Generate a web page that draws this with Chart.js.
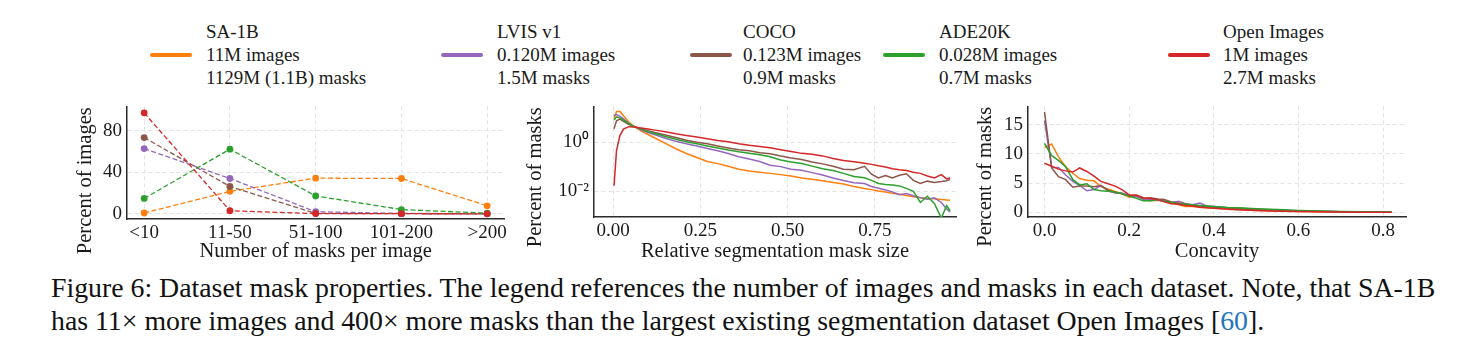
<!DOCTYPE html>
<html><head><meta charset="utf-8">
<script src="https://cdn.jsdelivr.net/npm/chart.js@4.4.1/dist/chart.umd.min.js"></script>
<style>
body{margin:0;background:#fff;width:1484px;height:359px;overflow:hidden;position:relative;font-family:"Liberation Serif","Times New Roman",serif;color:#111}
canvas{position:absolute;top:90px}
.sw{position:absolute;height:4px;border-radius:2px;top:53px;width:42px}
.lt{position:absolute;top:20px;font-size:19px;line-height:23px;white-space:nowrap;color:#1a1a1a}
.cap{position:absolute;left:51px;font-size:27.8px;line-height:33px;white-space:nowrap;color:#111}
</style></head><body>
<div id="legend"></div>
<canvas id="c1" width="470" height="180" style="left:40px"></canvas>
<canvas id="c2" width="465" height="180" style="left:500px"></canvas>
<canvas id="c3" width="450" height="180" style="left:965px"></canvas>
<div class="cap" style="top:271px">Figure 6: Dataset mask properties. The legend references the number of images and masks in each dataset. Note, that SA-1B</div>
<div class="cap" style="top:304px">has 11× more images and 400× more masks than the largest existing segmentation dataset Open Images [<span style="color:#2376bd">60</span>].</div>
<script>
// ---- series / legend ----
const seriesNames  = ['SA-1B', 'LVIS v1', 'COCO', 'ADE20K', 'Open Images'];
const seriesImages = ['11M images', '0.120M images', '0.123M images', '0.028M images', '1M images'];
const seriesMasks  = ['1129M (1.1B) masks', '1.5M masks', '0.9M masks', '0.7M masks', '2.7M masks'];
const seriesColors = ['#ff7f0e', '#9467bd', '#8c564b', '#2ca02c', '#d62728'];

// ---- chart 1: number of masks per image ----
const maskCountBins = ['<10', '11-50', '51-100', '101-200', '>200'];
const maskCountSA1B = [0.8, 21.6, 34.3, 34.0, 7.7];
const maskCountLVIS = [62.8, 34.0, 2.0, 0.4, 0.1];
const maskCountCOCO = [73.4, 26.3, 0.4, 0.1, 0.0];
const maskCountADE  = [14.8, 62.2, 17.2, 4.1, 0.6];
const maskCountOpen = [97.2, 3.0, 0.2, 0.1, 0.0];
const countTicks = [0, 40, 80];

// ---- chart 2: relative mask size (log y) ----
const sizeBins = [0.003,0.01,0.02,0.03,0.045,0.06,0.08,0.10,0.12,0.15,0.18,0.21,0.24,0.27,0.30,0.33,0.36,0.39,0.42,0.45,0.48,0.51,0.54,0.57,0.60,0.63,0.66,0.69,0.72,0.74,0.76,0.78,0.80,0.82,0.84,0.86,0.88,0.90,0.92,0.94,0.955,0.965];
const sizeSA1B = [9.3,18.2,18.2,12.3,6.8,4.57,2.95,2.09,1.51,0.91,0.55,0.35,0.24,0.166,0.135,0.105,0.079,0.068,0.060,0.054,0.048,0.042,0.035,0.031,0.027,0.023,0.020,0.0158,0.0129,0.0117,0.0102,0.0093,0.0083,0.0076,0.0068,0.0060,0.0054,0.0051,0.0050,0.0046,0.0044,0.0043];
const sizeLVIS = [12.6,13.8,11.5,9.1,6.0,4.37,3.24,2.51,2.04,1.48,1.10,0.87,0.71,0.56,0.45,0.35,0.26,0.21,0.166,0.117,0.102,0.079,0.072,0.058,0.046,0.035,0.0275,0.0224,0.0209,0.0158,0.0132,0.0112,0.0095,0.0072,0.0081,0.0066,0.0055,0.0047,0.0054,0.0035,0.0019,0.00145];
const sizeCOCO = [3.63,7.6,8.9,7.2,5.5,4.47,3.63,3.02,2.51,2.0,1.58,1.23,1.02,0.87,0.71,0.59,0.50,0.45,0.38,0.34,0.275,0.23,0.20,0.158,0.132,0.105,0.079,0.076,0.105,0.050,0.035,0.044,0.035,0.045,0.052,0.028,0.021,0.026,0.023,0.025,0.027,0.030];
const sizeADE  = [8.1,11.0,9.8,8.1,6.0,4.47,3.47,2.75,2.29,1.74,1.35,1.05,0.87,0.71,0.59,0.49,0.41,0.355,0.31,0.257,0.19,0.158,0.138,0.107,0.083,0.071,0.054,0.040,0.036,0.028,0.021,0.019,0.018,0.0166,0.0132,0.010,0.0035,0.0063,0.0032,0.0008,0.0026,0.0016];
const sizeOpen = [0.017,0.457,1.95,3.47,4.37,4.27,3.89,3.55,3.16,2.69,2.24,1.91,1.66,1.41,1.20,1.05,0.87,0.76,0.68,0.60,0.50,0.42,0.355,0.33,0.28,0.22,0.18,0.162,0.141,0.126,0.11,0.098,0.083,0.076,0.071,0.060,0.054,0.042,0.035,0.048,0.032,0.035];
const sizeXTicks = [0, 0.25, 0.5, 0.75];
const sizeXLabels = ['0.00', '0.25', '0.50', '0.75'];
const sizeYTicks = [0.01, 1];
const sizeYLabels = ['10\u207B\u00B2', '10\u2070'];

// ---- chart 3: concavity ----
const concBins = [0,0.017,0.033,0.05,0.067,0.083,0.1,0.117,0.133,0.15,0.167,0.183,0.2,0.217,0.233,0.25,0.267,0.283,0.3,0.317,0.333,0.35,0.367,0.383,0.4,0.433,0.467,0.5,0.533,0.567,0.6,0.65,0.7,0.75,0.82];
const concSA1B = [11.1,11.7,9.5,7.8,6.7,5.8,5.5,5.4,4.4,4.0,3.6,3.2,2.6,2.8,2.3,2.0,2.1,1.9,1.6,1.3,1.0,1.0,0.9,0.8,0.75,0.6,0.45,0.35,0.3,0.22,0.17,0.12,0.08,0.05,0.03];
const concLVIS = [15.7,7.7,7.7,6.4,5.3,4.6,3.7,3.9,4.6,3.7,3.3,3.3,2.9,2.7,2.3,2.2,2.1,2.0,1.7,1.9,1.5,1.3,1.6,1.1,1.0,0.8,0.7,0.55,0.45,0.35,0.3,0.2,0.12,0.08,0.05];
const concCOCO = [17.2,7.6,6.1,5.6,4.3,4.5,4.5,4.4,4.6,3.8,3.4,3.2,2.8,2.9,2.4,2.5,2.3,2.2,1.8,1.6,1.5,1.2,1.1,1.0,0.9,0.75,0.6,0.5,0.4,0.3,0.25,0.15,0.1,0.07,0.04];
const concADE  = [11.8,9.7,8.9,7.8,5.6,4.7,4.9,3.9,3.7,3.6,3.5,3.2,2.8,2.4,2.0,2.0,2.2,1.9,1.7,1.5,1.4,1.3,1.2,1.1,1.0,0.85,0.75,0.65,0.55,0.45,0.35,0.25,0.15,0.1,0.06];
const concOpen = [8.4,7.9,7.4,7.1,6.9,7.6,7.0,6.2,5.3,4.9,4.5,3.9,3.0,3.0,2.5,2.4,2.2,1.8,1.5,1.4,1.2,1.1,0.9,0.8,0.7,0.55,0.4,0.35,0.25,0.2,0.15,0.1,0.07,0.05,0.03];
const concXTicks = [0, 0.2, 0.4, 0.6, 0.8];
const concYTicks = [0, 5, 10, 15];

// ---- legend (HTML) ----
const legendSwatchX = [150, 441, 690, 883, 1168];
const legendTextX   = [206, 497, 743, 939, 1223];
const legendEl = document.getElementById('legend');
seriesNames.forEach((n, i) => {
  const s = document.createElement('div');
  s.className = 'sw'; s.style.left = legendSwatchX[i] + 'px'; s.style.background = seriesColors[i];
  legendEl.appendChild(s);
  const t = document.createElement('div');
  t.className = 'lt'; t.style.left = legendTextX[i] + 'px';
  [n, seriesImages[i], seriesMasks[i]].forEach(line => {
    const d = document.createElement('div'); d.textContent = line; t.appendChild(d);
  });
  legendEl.appendChild(t);
});

// ---- shared styling ----
const FONT = "'Liberation Serif','Times New Roman',serif";
Chart.defaults.font.family = FONT;
Chart.defaults.color = '#1a1a1a';
const gridOpts = {color: '#e3e3e3', lineWidth: 1, drawTicks: false};
const borderOpts = {display: true, color: '#2b2b2b', width: 1.5, dash: [4, 3]};
const tickFont = {family: FONT, size: 19};
const titleFont = {family: FONT, size: 20.5};

const yTitlePlugin = {
  id: 'yTitle',
  afterDraw(chart, args, o) {
    const {ctx, chartArea} = chart;
    ctx.save();
    ctx.font = titleFont.size + 'px ' + FONT;
    ctx.fillStyle = '#1a1a1a';
    ctx.textAlign = 'center';
    ctx.textBaseline = 'middle';
    ctx.translate(chartArea.left - o.dx, (chartArea.top + chartArea.bottom) / 2 + o.dy);
    ctx.rotate(-Math.PI / 2);
    ctx.fillText(o.text, 0, 0);
    ctx.restore();
  }
};

function pts(xs, ys) { return xs.map((x, i) => ({x: x, y: ys[i]})); }

function makeChart(id, datasets, xCfg, yCfg, yTitle, layout) {
  return new Chart(document.getElementById(id), {
    type: 'line',
    data: {datasets},
    plugins: [yTitlePlugin],
    options: {
      responsive: false, animation: false, devicePixelRatio: 1,
      layout: {padding: {top: 7, right: layout.padRight, bottom: 0, left: 0}},
      plugins: {legend: {display: false}, tooltip: {enabled: false},
                yTitle: {text: yTitle, dx: layout.tdx, dy: layout.tdy}},
      elements: {line: {tension: 0}},
      scales: {
        x: Object.assign({
          type: 'linear',
          afterFit: s => { s.height = layout.xH; },
          grid: gridOpts, border: borderOpts,
          ticks: Object.assign({font: tickFont, color: '#1a1a1a', padding: 3, maxRotation: 0, autoSkip: false}, xCfg.ticks || {}),
          title: {display: true, text: xCfg.title, font: titleFont, color: '#1a1a1a', padding: {top: 0, bottom: 6}}
        }, xCfg.scale),
        y: Object.assign({
          afterFit: s => { s.width = layout.yW; },
          grid: gridOpts, border: borderOpts,
          ticks: Object.assign({font: tickFont, color: '#1a1a1a', padding: 5, autoSkip: false}, yCfg.ticks || {})
        }, yCfg.scale)
      }
    }
  });
}

// chart 1
const countSeries = [maskCountSA1B, maskCountLVIS, maskCountCOCO, maskCountADE, maskCountOpen];
const countIdx = maskCountBins.map((_, i) => i);
makeChart('c1',
  countSeries.map((vals, i) => ({
    data: pts(countIdx, vals), borderColor: seriesColors[i], backgroundColor: seriesColors[i],
    borderWidth: 1.3, borderDash: [5, 2.5], pointRadius: 3.4, pointBorderWidth: 0, pointHoverRadius: 3.4,
    order: 4 - i
  })),
  {title: 'Number of masks per image',
   scale: {min: -0.2, max: 4.2, afterBuildTicks: s => { s.ticks = countIdx.map(v => ({value: v})); }},
   ticks: {callback: v => maskCountBins[v]}},
  {scale: {type: 'linear', min: -5, max: 103.4, afterBuildTicks: s => { s.ticks = countTicks.map(v => ({value: v})); }}},
  'Percent of images', {padRight: 5, yW: 87, xH: 51, tdx: 41, tdy: 18});

// chart 2
const sizeSeries = [sizeSA1B, sizeLVIS, sizeCOCO, sizeADE, sizeOpen];
makeChart('c2',
  sizeSeries.map((vals, i) => ({
    data: pts(sizeBins, vals), borderColor: seriesColors[i], backgroundColor: seriesColors[i],
    borderWidth: 1.5, pointRadius: 0, order: 4 - i
  })),
  {title: 'Relative segmentation mask size',
   scale: {min: -0.0544, max: 0.982, afterBuildTicks: s => { s.ticks = sizeXTicks.map(v => ({value: v})); }},
   ticks: {callback: v => sizeXLabels[sizeXTicks.indexOf(v)]}},
  {scale: {type: 'logarithmic', min: 0.00089, max: 29.5, afterBuildTicks: s => { s.ticks = sizeYTicks.map(v => ({value: v})); }},
   ticks: {callback: v => sizeYLabels[sizeYTicks.indexOf(v)]}},
  'Percent of masks', {padRight: 9, yW: 94, xH: 53, tdx: 58.5, tdy: 15.5});

// chart 3
const concSeries = [concSA1B, concLVIS, concCOCO, concADE, concOpen];
makeChart('c3',
  concSeries.map((vals, i) => ({
    data: pts(concBins, vals), borderColor: seriesColors[i], backgroundColor: seriesColors[i],
    borderWidth: 1.5, pointRadius: 0, order: 4 - i
  })),
  {title: 'Concavity',
   scale: {min: -0.039, max: 0.854, afterBuildTicks: s => { s.ticks = concXTicks.map(v => ({value: v})); }},
   ticks: {callback: v => v.toFixed(1)}},
  {scale: {type: 'linear', min: -0.78, max: 18.12, afterBuildTicks: s => { s.ticks = concYTicks.map(v => ({value: v})); }}},
  'Percent of masks', {padRight: 9, yW: 63, xH: 53, tdx: 42, tdy: 15});
</script>
</body></html>
